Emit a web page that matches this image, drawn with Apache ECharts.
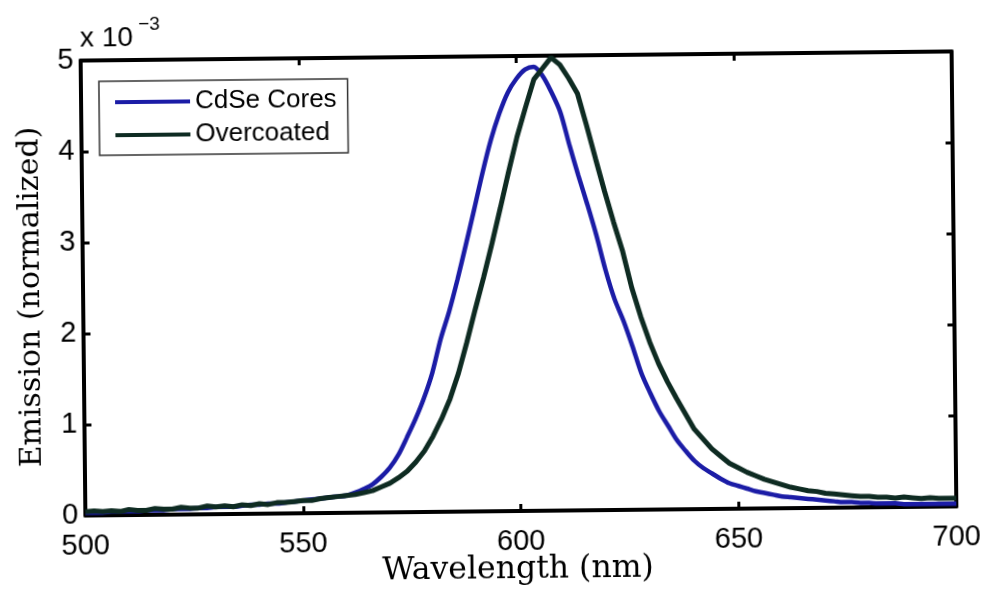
<!DOCTYPE html>
<html>
<head>
<meta charset="utf-8">
<script src="https://cdn.jsdelivr.net/npm/echarts@6/dist/echarts.min.js"></script>
<style>
html,body{margin:0;padding:0;background:#fff;}
#chart{width:984px;height:595px;transform:rotate(-0.6deg);transform-origin:518px 284px;}
</style>
</head>
<body>
<div id="chart"></div>
<script>
// Wavelength samples (nm)
const wavelengths = [500,502,504,506,508,510,512,514,516,518,520,522,524,526,528,530,532,534,536,538,540,542,544,546,548,550,552,554,556,558,560,562,564,566,568,570,572,574,576,578,580,582,584,586,588,590,592,594,596,598,600,602,604,606,608,610,612,614,616,618,620,622,624,626,628,630,632,634,636,638,640,642,644,646,648,650,652,654,656,658,660,662,664,666,668,670,672,674,676,678,680,682,684,686,688,690,692,694,696,698,700];
// Emission values, units of 1e-3
const cdseCores = [0.03,0.03,0.03,0.04,0.04,0.04,0.04,0.05,0.05,0.05,0.06,0.06,0.06,0.07,0.07,0.08,0.08,0.08,0.09,0.10,0.10,0.11,0.11,0.12,0.13,0.14,0.15,0.16,0.17,0.18,0.19,0.22,0.26,0.31,0.39,0.49,0.63,0.82,1.02,1.25,1.53,1.90,2.20,2.55,2.93,3.32,3.72,4.08,4.37,4.60,4.75,4.85,4.88,4.78,4.60,4.38,4.02,3.68,3.36,3.02,2.64,2.32,2.08,1.80,1.50,1.28,1.08,0.92,0.76,0.64,0.53,0.45,0.39,0.33,0.28,0.25,0.22,0.19,0.17,0.15,0.13,0.12,0.11,0.10,0.09,0.08,0.07,0.06,0.06,0.05,0.05,0.04,0.04,0.04,0.03,0.03,0.03,0.03,0.03,0.03,0.03];
const overcoated = [0.04,0.05,0.04,0.05,0.04,0.06,0.05,0.05,0.07,0.06,0.06,0.08,0.07,0.07,0.09,0.08,0.09,0.08,0.10,0.09,0.11,0.10,0.12,0.12,0.13,0.14,0.14,0.16,0.17,0.18,0.19,0.20,0.22,0.24,0.28,0.32,0.38,0.45,0.55,0.67,0.83,1.02,1.24,1.52,1.86,2.22,2.57,2.94,3.33,3.73,4.11,4.43,4.74,4.86,4.98,4.90,4.75,4.58,4.23,3.86,3.50,3.16,2.84,2.44,2.12,1.84,1.60,1.40,1.22,1.05,0.88,0.77,0.66,0.58,0.50,0.45,0.40,0.36,0.32,0.29,0.26,0.23,0.21,0.19,0.18,0.16,0.15,0.14,0.13,0.12,0.12,0.11,0.11,0.10,0.11,0.10,0.09,0.10,0.09,0.09,0.09];
const xTicks = [500, 550, 600, 650, 700];
const yTicks = [0, 1, 2, 3, 4, 5];
const seriesNames = ['CdSe Cores', 'Overcoated'];

const chart = echarts.init(document.getElementById('chart'), null, {renderer: 'canvas'});
const sans = 'Liberation Sans, Arial, sans-serif';
const serif = 'DejaVu Serif, serif';
const axisLine = {show: true, onZero: false, lineStyle: {color: '#000', width: 4}};
const tick = {show: true, inside: true, length: 7, lineStyle: {color: '#000', width: 3}};

function pairs(vals) { return wavelengths.map((w, i) => [w, vals[i]]); }

chart.setOption({
  backgroundColor: '#fff',
  animation: false,
  grid: {left: 83, right: 30, top: 56, bottom: 84, containLabel: false},
  xAxis: [
    {type: 'value', min: xTicks[0], max: xTicks[xTicks.length-1], interval: 50, position: 'bottom',
     axisLine: axisLine, axisTick: tick, splitLine: {show: false},
     axisLabel: {fontSize: 29, color: '#000', fontFamily: sans, margin: 16}},
    {type: 'value', min: xTicks[0], max: xTicks[xTicks.length-1], interval: 50, position: 'top',
     axisLine: axisLine, axisTick: tick, splitLine: {show: false}, axisLabel: {show: false}}
  ],
  yAxis: [
    {type: 'value', min: yTicks[0], max: yTicks[yTicks.length-1], interval: 1, position: 'left',
     axisLine: axisLine, axisTick: tick, splitLine: {show: false},
     axisLabel: {fontSize: 29, color: '#000', fontFamily: sans, margin: 7}},
    {type: 'value', min: yTicks[0], max: yTicks[yTicks.length-1], interval: 1, position: 'right',
     axisLine: axisLine, axisTick: tick, splitLine: {show: false}, axisLabel: {show: false}}
  ],
  legend: {
    data: seriesNames, orient: 'vertical', left: 101, top: 77,
    padding: [8, 11, 7, 16], itemWidth: 75, itemHeight: 4, itemGap: 7, icon: 'rect',
    textStyle: {fontSize: 26, lineHeight: 26, fontFamily: sans, color: '#000'},
    borderColor: '#333', borderWidth: 1.5, backgroundColor: '#fff'
  },
  graphic: [
    {type: 'text', x: 82.6, y: 34.5, style: {text: 'x 10', font: '28px ' + sans, fill: '#000', verticalAlign: 'middle', align: 'left'}},
    {type: 'text', x: 141, y: 21, style: {text: '\u22123', font: '19px ' + sans, fill: '#000', verticalAlign: 'middle', align: 'left'}},
    {type: 'text', x: 31, y: 292, rotation: Math.PI/2, style: {text: 'Emission (normalized)', font: '30px ' + serif, fill: '#000', verticalAlign: 'middle', align: 'center'}},
    {type: 'text', x: 515, y: 570, style: {text: 'Wavelength (nm)', font: '31.5px ' + serif, fill: '#000', verticalAlign: 'middle', align: 'center'}}
  ],
  series: [
    {name: seriesNames[0], type: 'line', data: pairs(cdseCores), showSymbol: false, symbol: 'none',
     color: '#1b1ca6', lineStyle: {color: '#1b1ca6', width: 4.5}, smooth: 0.3, z: 3},
    {name: seriesNames[1], type: 'line', data: pairs(overcoated), showSymbol: false, symbol: 'none',
     color: '#0e2b22', lineStyle: {color: '#0e2b22', width: 5}, smooth: false, z: 4}
  ]
});
</script>
</body>
</html>
